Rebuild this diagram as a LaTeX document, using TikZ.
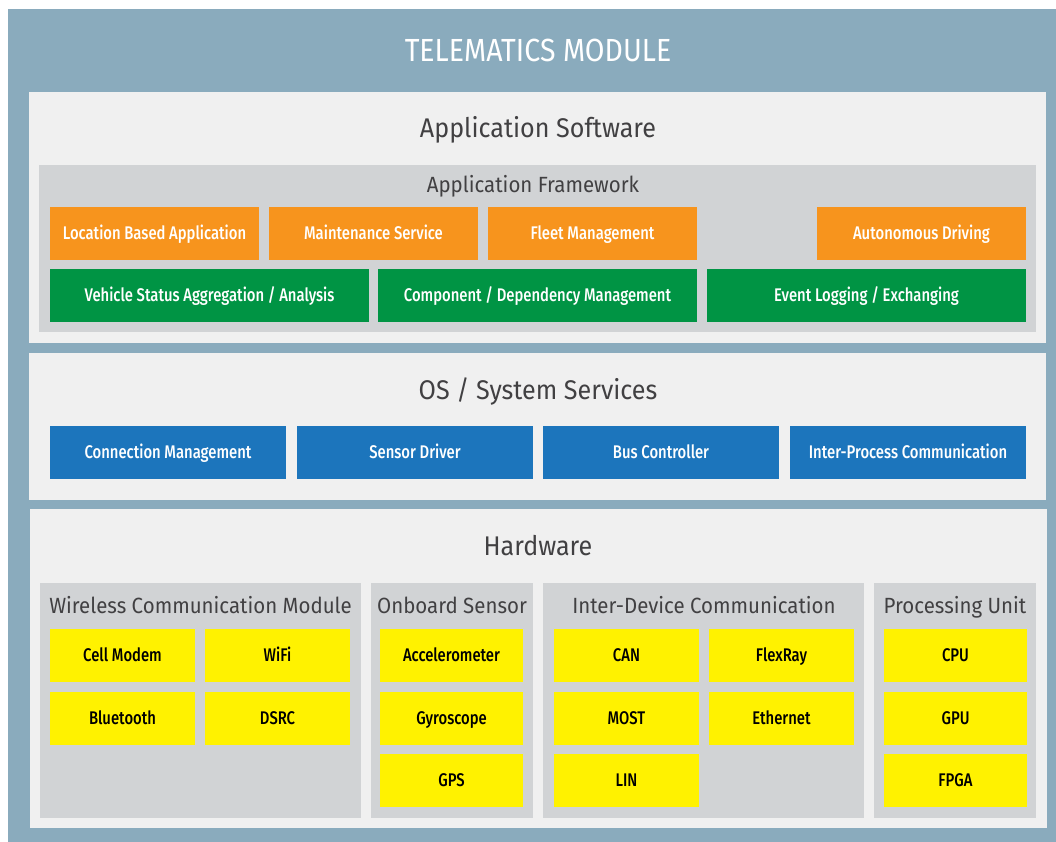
\documentclass[tikz,border=0pt]{standalone}
\usepackage{fontspec}
\setmainfont{Fira Sans}
\newfontfamily\hdfont[FakeStretch=0.93]{Fira Sans}
\newfontfamily\ttlfont[FakeStretch=0.89]{Fira Sans}
\newfontfamily\bxfont[FakeStretch=0.81]{Fira Sans Medium}
\definecolor{outerc}{HTML}{8AABBD}
\definecolor{panelc}{HTML}{F0F0F0}
\definecolor{groupc}{HTML}{D1D3D5}
\definecolor{orangec}{HTML}{F7941D}
\definecolor{greenc}{HTML}{009444}
\definecolor{bluec}{HTML}{1C75BC}
\definecolor{yellowc}{HTML}{FFF200}
\definecolor{hdc}{HTML}{414042}
\tikzset{
  area/.style={rectangle, inner sep=0pt, draw=none},
  panel/.style={area, fill=panelc},
  grp/.style={area, fill=groupc},
  bx/.style={rectangle, inner sep=0pt, minimum height=53pt, text height=12.6pt, text depth=0pt,
    font=\bxfont\fontsize{18.3}{20}\selectfont},
  obox/.style={bx, fill=orangec, text=white},
  gbox/.style={bx, fill=greenc, text=white},
  bbox/.style={bx, fill=bluec, text=white},
  ybox/.style={bx, fill=yellowc, text=black},
  hdtext/.style={inner sep=0pt, anchor=base, text=hdc},
  bigtitle/.style={hdtext, font=\hdfont\fontsize{27}{30}\selectfont},
  subtitle/.style={hdtext, font=\hdfont\fontsize{22}{24}\selectfont},
}
\begin{document}
\begin{tikzpicture}[x=1pt,y=-1pt]
\fill[white] (0,0) rectangle (1056,842);
\useasboundingbox (0,0) rectangle (1056,842);
% outer module
\node[area, fill=outerc, minimum width=1048pt, minimum height=833pt] (outer) at (532,425.5) {};
\node[inner sep=0pt, anchor=base, text=white, font=\ttlfont\fontsize{32}{36}\selectfont] (title) at (538,62) {TELEMATICS MODULE};

% Application Software
\node[panel, minimum width=1017pt, minimum height=251pt] (app) at (537.5,217.5) {};
\node[bigtitle] (appt) at (538,138) {Application Software};
\node[grp, minimum width=997pt, minimum height=167pt] (fw) at (537.5,248.5) {};
\node[subtitle] (fwt) at (533,193) {Application Framework};
\node[obox, minimum width=209pt] (lba) at (154.5,233.5) {Location Based Application};
\node[obox, minimum width=209pt] (maint) at (373.5,233.5) {Maintenance Service};
\node[obox, minimum width=209pt] (fleet) at (592.5,233.5) {Fleet Management};
\node[obox, minimum width=209pt] (auto) at (921.5,233.5) {Autonomous Driving};
\node[gbox, minimum width=319pt] (vsa) at (209.5,295.5) {Vehicle Status Aggregation / Analysis};
\node[gbox, minimum width=319pt] (cdm) at (537.5,295.5) {Component / Dependency Management};
\node[gbox, minimum width=319pt] (evl) at (866.5,295.5) {Event Logging / Exchanging};

% OS / System Services
\node[panel, minimum width=1017pt, minimum height=147pt] (os) at (537.5,426.5) {};
\node[bigtitle] (ost) at (538,399) {OS / System Services};
\node[bbox, minimum width=236pt] (conn) at (168,452.5) {Connection Management};
\node[bbox, minimum width=236pt] (sens) at (415,452.5) {Sensor Driver};
\node[bbox, minimum width=236pt] (bus) at (661,452.5) {Bus Controller};
\node[bbox, minimum width=236pt] (ipc) at (908,452.5) {Inter-Process Communication};

% Hardware
\node[panel, minimum width=1017pt, minimum height=319pt] (hw) at (538,668.5) {};
\node[bigtitle] (hwt) at (538,555) {Hardware};
\node[grp, minimum width=321pt, minimum height=235pt] (wcm) at (200.5,700.5) {};
\node[grp, minimum width=162pt, minimum height=235pt] (obs) at (452,700.5) {};
\node[grp, minimum width=321pt, minimum height=235pt] (idc) at (703.5,700.5) {};
\node[grp, minimum width=162pt, minimum height=235pt] (pu) at (955,700.5) {};
\node[subtitle] (wcmt) at (200.5,613) {Wireless Communication Module};
\node[subtitle] (obst) at (452,613) {Onboard Sensor};
\node[subtitle] (idct) at (704,613) {Inter-Device Communication};
\node[subtitle] (put) at (955,613) {Processing Unit};

\node[ybox, minimum width=145pt] (cell) at (122.5,655.5) {Cell Modem};
\node[ybox, minimum width=145pt] (wifi) at (277.5,655.5) {WiFi};
\node[ybox, minimum width=145pt] (bt) at (122.5,718.5) {Bluetooth};
\node[ybox, minimum width=145pt] (dsrc) at (277.5,718.5) {DSRC};

\node[ybox, minimum width=143pt] (acc) at (451.5,655.5) {Accelerometer};
\node[ybox, minimum width=143pt] (gyro) at (451.5,718.5) {Gyroscope};
\node[ybox, minimum width=143pt] (gps) at (451.5,780.5) {GPS};

\node[ybox, minimum width=145pt] (can) at (626.5,655.5) {CAN};
\node[ybox, minimum width=145pt] (flex) at (781.5,655.5) {FlexRay};
\node[ybox, minimum width=145pt] (most) at (626.5,718.5) {MOST};
\node[ybox, minimum width=145pt] (eth) at (781.5,718.5) {Ethernet};
\node[ybox, minimum width=145pt] (lin) at (626.5,780.5) {LIN};

\node[ybox, minimum width=143pt] (cpu) at (955.5,655.5) {CPU};
\node[ybox, minimum width=143pt] (gpu) at (955.5,718.5) {GPU};
\node[ybox, minimum width=143pt] (fpga) at (955.5,780.5) {FPGA};
\end{tikzpicture}
\end{document}
